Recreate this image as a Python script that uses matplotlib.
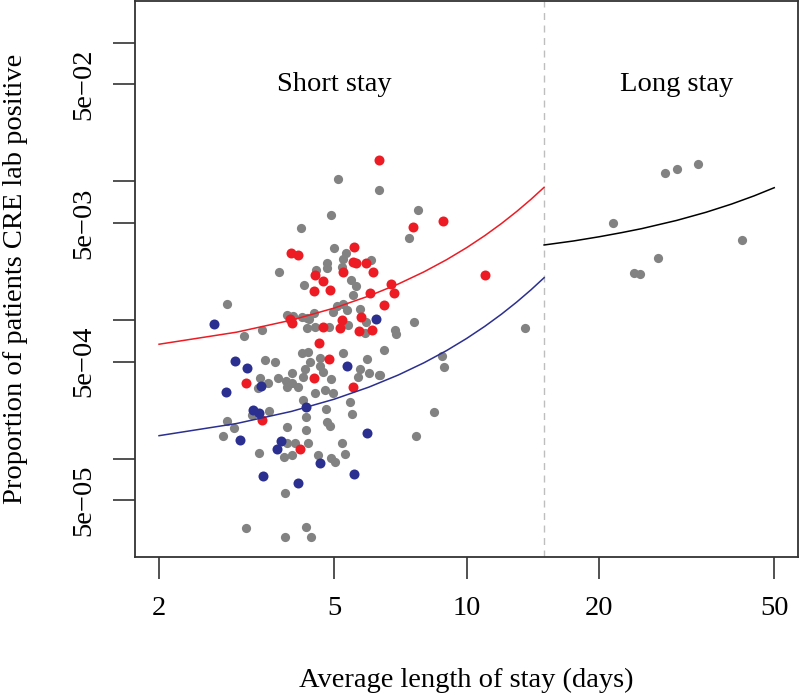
import matplotlib
matplotlib.use("Agg")
import matplotlib.pyplot as plt

# Data (x = average length of stay in days, y = proportion CRE positive)

grey_x = [2.85, 2.85, 2.96, 2.80, 4.20, 3.74, 4.26, 3.90, 4.04, 4.22, 4.34, 4.34, 3.43, 3.12,
          3.48, 3.67, 4.22, 4.36, 3.40, 3.72, 3.89, 4.02, 4.02, 3.90, 4.25, 4.14, 3.36, 3.53,
          4.25, 3.56, 3.25, 4.31, 3.91, 4.31, 3.90, 4.07, 4.36, 3.38, 3.85, 4.02, 3.87, 3.15,
          3.87, 4.31, 4.43,
          5.09, 6.32, 4.92, 5.00, 5.32, 6.06, 5.24, 4.81, 4.82, 5.20, 4.55, 5.45, 5.61, 5.53,
          5.24, 5.08, 4.96, 4.50, 5.36, 5.72, 4.39, 5.91, 4.52, 4.87, 5.38, 5.88,
          5.24, 4.64, 5.93, 4.41, 4.29, 4.64, 5.72, 6.01, 5.67, 6.33, 4.72, 4.93, 4.77, 4.52,
          4.98, 5.43, 4.79, 5.48, 4.81, 4.89, 5.20, 4.60, 4.93, 5.02, 5.29,
          7.77, 7.41, 7.59, 6.88, 6.91, 6.49, 8.78, 8.88, 6.35, 8.44, 7.67, 13.6,
          21.5, 28.3, 30.1, 33.5, 42.3, 27.2, 24.0, 24.8]
grey_y = [1.30e-3, 1.87e-4, 1.67e-4, 1.46e-4, 4.58e-3, 2.23e-3, 1.79e-3, 1.085e-3, 1.067e-3,
          1.055e-3, 1.032e-3, 8.75e-4, 8.46e-4, 7.66e-4,
          5.13e-4, 5.0e-4, 5.80e-4, 5.87e-4, 3.80e-4, 3.83e-4, 3.63e-4, 4.12e-4, 3.49e-4,
          3.27e-4, 3.90e-4, 3.30e-4, 3.21e-4, 3.49e-4,
          2.65e-4, 2.22e-4, 2.06e-4, 1.98e-4, 1.68e-4, 1.62e-4, 1.30e-4, 1.29e-4, 1.29e-4,
          1.10e-4, 1.03e-4, 1.063e-4, 5.68e-5, 3.18e-5, 2.71e-5, 3.24e-5, 2.74e-5,
          1.033e-2, 8.65e-3, 5.71e-3, 3.28e-3, 3.05e-3, 2.71e-3, 2.75e-3, 2.56e-3, 2.36e-3,
          2.42e-3, 2.29e-3, 1.94e-3, 1.77e-3, 1.51e-3, 1.30e-3, 1.26e-3, 1.146e-3, 1.127e-3,
          1.18e-3, 1.199e-3, 1.01e-3, 9.71e-4, 8.94e-4, 8.94e-4, 9.19e-4, 8.05e-4,
          5.80e-4, 5.29e-4, 5.20e-4, 5.0e-4, 4.43e-4, 4.65e-4, 4.41e-4, 4.12e-4, 3.90e-4,
          4.01e-4, 4.24e-4, 3.73e-4, 3.13e-4, 2.96e-4, 2.96e-4, 2.57e-4, 2.27e-4, 2.09e-4,
          1.85e-4, 1.72e-4, 1.29e-4, 1.063e-4, 1.006e-4, 9.41e-5, 1.081e-4,
          6.20e-3, 3.88e-3, 9.61e-4, 8.46e-4, 7.92e-4, 6.07e-4, 5.50e-4, 4.60e-4, 4.01e-4,
          2.17e-4, 1.46e-4, 8.79e-4,
          5.02e-3, 1.152e-2, 1.220e-2, 1.332e-2, 3.77e-3, 2.81e-3, 2.18e-3, 2.14e-3]

red_x = [6.31, 3.99, 4.13, 5.55, 5.51, 5.61, 5.91, 5.24, 6.14, 4.52, 4.71, 4.50, 4.88, 6.03,
         3.96, 4.02, 5.74, 5.20, 4.71, 5.16, 5.70, 6.11, 4.63, 4.86, 4.50, 5.51, 3.16, 3.42,
         4.19, 7.56, 8.85, 6.72, 6.84, 6.49, 11.0]
red_y = [1.42e-2, 3.05e-3, 2.92e-3, 3.37e-3, 2.63e-3, 2.59e-3, 2.56e-3, 2.23e-3, 2.23e-3,
         2.11e-3, 1.91e-3, 1.63e-3, 1.65e-3, 1.57e-3, 1.015e-3, 9.55e-4, 1.055e-3, 9.99e-4,
         8.85e-4, 8.70e-4, 8.32e-4, 8.46e-4, 6.85e-4, 5.20e-4, 3.83e-4, 3.30e-4, 3.53e-4,
         1.90e-4, 1.174e-4, 4.66e-3, 5.19e-3, 1.81e-3, 1.57e-3, 1.28e-3, 2.11e-3]

blue_x = [2.66, 2.97, 3.17, 2.84, 3.41, 3.27, 3.38, 3.06, 3.78, 3.70, 3.44, 4.13, 4.32, 5.34,
          6.22, 5.93, 4.64, 5.55]
blue_y = [9.39e-4, 5.06e-4, 4.50e-4, 3.02e-4, 3.34e-4, 2.24e-4, 2.12e-4, 1.36e-4, 1.35e-4,
          1.17e-4, 7.50e-5, 6.64e-5, 2.35e-4, 4.65e-4, 1.01e-3, 1.54e-4, 9.25e-5, 7.75e-5]

# fitted curves
short_curve_x = [2, 3, 4, 5, 6, 7, 8, 9, 10, 11, 12, 13, 14, 15]
red_curve_y = [6.68e-4, 8.16e-4, 9.97e-4, 1.218e-3, 1.489e-3, 1.818e-3, 2.222e-3, 2.716e-3,
               3.319e-3, 4.056e-3, 4.957e-3, 6.058e-3, 7.40e-3, 9.04e-3]
blue_curve_y = [1.464e-4, 1.791e-4, 2.191e-4, 2.682e-4, 3.281e-4, 4.014e-4, 4.911e-4,
                6.008e-4, 7.353e-4, 8.996e-4, 1.1006e-3, 1.3465e-3, 1.6475e-3, 2.016e-3]
long_curve_x = [15, 17.5, 20, 22.5, 25, 30, 35, 40, 45, 50]
long_curve_y = [3.47e-3, 3.71e-3, 3.977e-3, 4.26e-3, 4.553e-3, 5.216e-3, 5.975e-3, 6.846e-3,
                7.843e-3, 8.98e-3]

x_ticks = [2, 5, 10, 20, 50]
y_ticks = [5e-5, 1e-4, 5e-4, 1e-3, 5e-3, 1e-2, 5e-2, 1e-1]
y_tick_labels = ["5e\u221205", "", "5e\u221204", "", "5e\u221203", "", "5e\u221202", ""]

# Graphic settings
plt.rcParams["font.family"] = ["Liberation Serif", "DejaVu Serif"]
font_size = 20.5
grey_color = "#828282"
red_color = "#ED1C24"
blue_color = "#2B2F8F"

fig = plt.figure(figsize=(8, 7), dpi=100)
ax = fig.add_axes([0.1688, 0.2043, 0.8281, 0.7943])

ax.scatter(grey_x, grey_y, s=44, color=grey_color, linewidths=0, zorder=3)
ax.scatter(red_x, red_y, s=52, color=red_color, linewidths=0, zorder=4)
ax.scatter(blue_x, blue_y, s=52, color=blue_color, linewidths=0, zorder=4)

ax.plot(short_curve_x, red_curve_y, color=red_color, linewidth=1.1, zorder=5)
ax.plot(short_curve_x, blue_curve_y, color=blue_color, linewidth=1.1, zorder=5)
ax.plot(long_curve_x, long_curve_y, color="black", linewidth=1.1, zorder=5)

ax.axvline(15, color="#BEBEBE", linestyle=(0, (5, 4)), linewidth=1.0, zorder=2)

ax.text(5, 0.05, "Short stay", ha="center", va="center", fontsize=font_size)
ax.text(30, 0.05, "Long stay", ha="center", va="center", fontsize=font_size)

ax.set_xscale("log")
ax.set_yscale("log")
ax.set_xlim(1.764, 56.48)
ax.set_ylim(1.954e-5, 0.1993)

ax.set_xticks(x_ticks)
ax.set_xticklabels([str(t) for t in x_ticks])
ax.set_yticks(y_ticks)
ax.set_yticklabels(y_tick_labels)
ax.minorticks_off()
ax.tick_params(axis="both", direction="out", length=16, width=1.2, pad=12,
               labelsize=font_size, color="#333333")
ax.tick_params(axis="y", labelrotation=90)
for lab in ax.get_yticklabels():
    lab.set_va("center")

for spine in ax.spines.values():
    spine.set_linewidth(1.3)
    spine.set_color("#333333")

ax.set_xlabel("Average length of stay (days)", fontsize=font_size, labelpad=34)
ax.set_ylabel("Proportion of patients CRE lab positive", fontsize=font_size, labelpad=31)

fig.savefig("out.png", dpi=100)
